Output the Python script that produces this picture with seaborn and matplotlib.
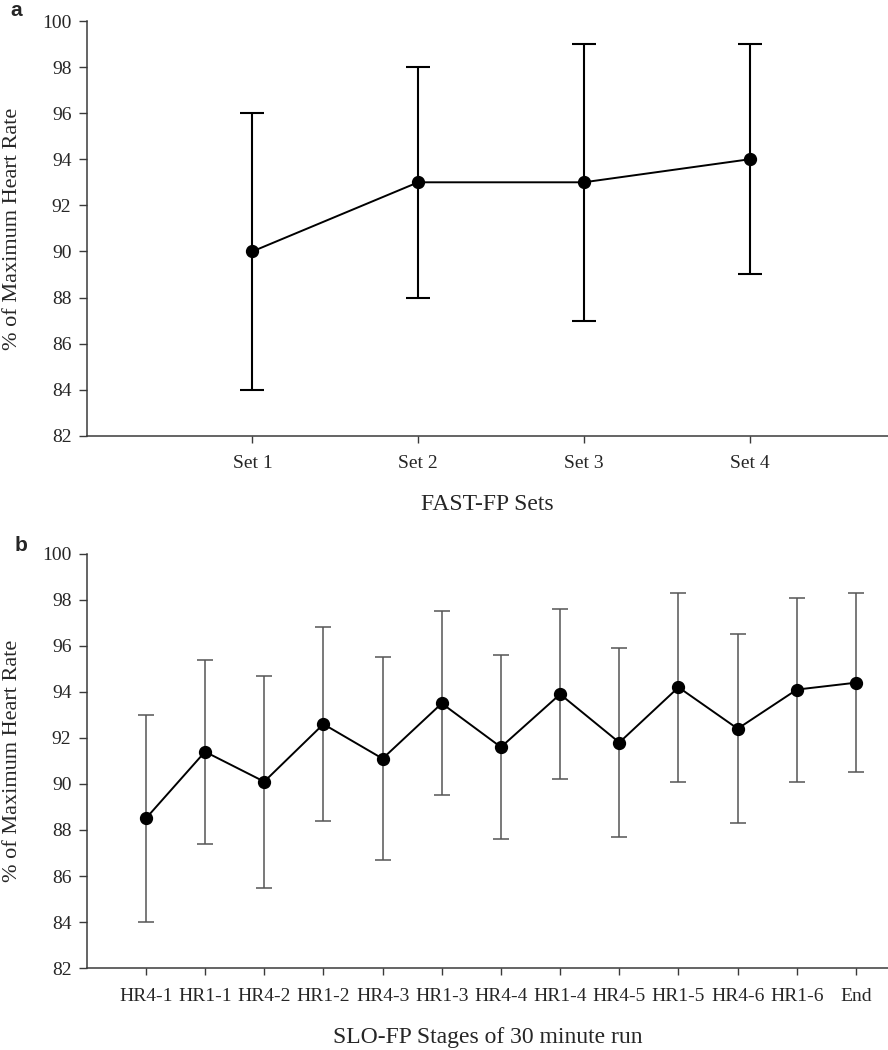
import numpy as np
import pandas as pd
import matplotlib
matplotlib.use("Agg")
import matplotlib.pyplot as plt
import seaborn as sns

# panel a: FAST-FP sets
sets = ["Set 1", "Set 2", "Set 3", "Set 4"]
fast_mean = [90, 93, 93, 94]
fast_sd = [6, 5, 6, 5]

# panel b: SLO-FP stages
stages = ["HR4-1", "HR1-1", "HR4-2", "HR1-2", "HR4-3", "HR1-3", "HR4-4",
          "HR1-4", "HR4-5", "HR1-5", "HR4-6", "HR1-6", "End"]
slo_mean = [88.5, 91.4, 90.1, 92.6, 91.1, 93.5, 91.6, 93.9, 91.8, 94.2, 92.4, 94.1, 94.4]
slo_sd = [4.5, 4.0, 4.6, 4.2, 4.4, 4.0, 4.0, 3.7, 4.1, 4.1, 4.1, 4.0, 3.9]

yticks = [82, 84, 86, 88, 90, 92, 94, 96, 98, 100]

sns.set_theme(style="white")
plt.rcParams["font.family"] = ["Liberation Serif", "DejaVu Serif"]

fig = plt.figure(figsize=(8.88, 10.5), dpi=100)
ax1 = fig.add_axes([0.0976, 0.585, 0.9024, 0.395])
ax2 = fig.add_axes([0.0976, 0.078, 0.9024, 0.3946])

df_a = pd.DataFrame({"set": sets, "hr": fast_mean})
df_b = pd.DataFrame({"stage": stages, "hr": slo_mean})


def draw(ax, df, xcol, labels, means, sds, err_color, err_lw, capsize, xlim, xlabel):
    x = np.arange(len(labels))
    ax.errorbar(x, means, yerr=sds, fmt="none", ecolor=err_color,
                elinewidth=err_lw, capsize=capsize, capthick=err_lw, zorder=2)
    sns.pointplot(data=df, x=xcol, y="hr", order=labels, color="black",
                  markers="o", markersize=8.5, linewidth=1.4, errorbar=None,
                  ax=ax, zorder=3)
    ax.set_xlim(*xlim)
    ax.set_ylim(82, 100)
    ax.set_yticks(yticks)
    ax.set_yticklabels([str(t) for t in yticks])
    for s in ["top", "right"]:
        ax.spines[s].set_visible(False)
    for s in ["left", "bottom"]:
        ax.spines[s].set_color("#3a3a3a")
        ax.spines[s].set_linewidth(1.1)
    ax.tick_params(axis="y", direction="out", length=6, width=1.0, color="#3a3a3a",
                   labelsize=14, pad=5, left=True)
    ax.tick_params(axis="x", direction="out", length=5, width=1.0, color="#3a3a3a",
                   labelsize=14, pad=9, bottom=True)
    ax.set_xlabel(xlabel, fontsize=17, labelpad=16)
    ax.set_ylabel("% of Maximum Heart Rate", fontsize=16, va="center")
    ax.yaxis.set_label_coords(-0.093, 0.5)
    ax.set_facecolor("white")


draw(ax1, df_a, "set", sets, fast_mean, fast_sd, "black", 1.5, 8.5,
     (-1.0, 3.835), "FAST-FP Sets")
draw(ax2, df_b, "stage", stages, slo_mean, slo_sd, "#555555", 1.1, 5.5,
     (-1.0, 12.54), "SLO-FP Stages of 30 minute run")

fig.text(0.012, 0.999, "a", fontsize=15, fontweight="bold",
         family="Liberation Sans", va="top", ha="left")
fig.text(0.016, 1 - 536 / 1050, "b", fontsize=15, fontweight="bold",
         family="Liberation Sans", va="top", ha="left")

fig.savefig("out.png", dpi=100, facecolor="white")
